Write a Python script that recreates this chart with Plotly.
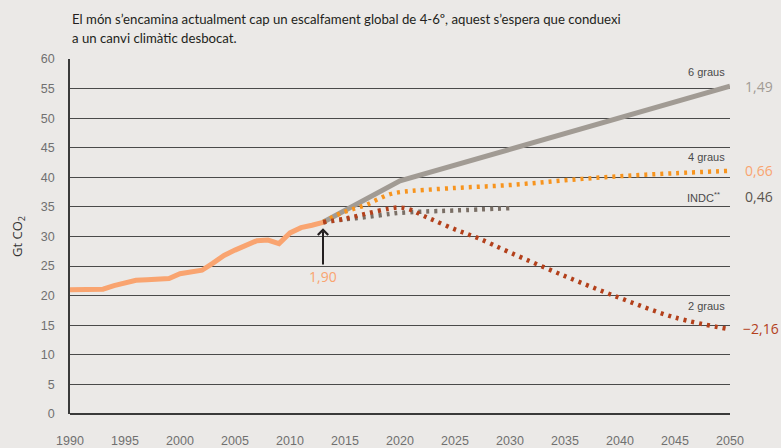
import plotly.graph_objects as go

# ---- data ----
hist_years = list(range(1990, 2014))
hist_vals = [21.0, 21.1, 21.0, 21.1, 21.7, 22.2, 22.6, 22.7, 22.8, 22.9,
             23.7, 24.0, 24.3, 25.5, 26.8, 27.7, 28.5, 29.3, 29.4, 28.8,
             30.6, 31.5, 31.9, 32.4]

g6_years = [2013, 2020, 2050]
g6_vals = [32.4, 39.4, 55.4]

g4_years = [2013, 2014, 2015, 2016, 2017, 2018, 2019, 2020, 2025, 2030, 2035, 2040, 2045, 2050]
g4_vals = [32.4, 33.4, 34.2, 34.8, 35.4, 36.3, 37.1, 37.5, 38.2, 38.7, 39.5, 40.2, 40.7, 41.1]

indc_years = [2013, 2015, 2017, 2019, 2020, 2022, 2025, 2030]
indc_vals = [32.4, 32.9, 33.3, 33.8, 34.0, 34.2, 34.4, 34.8]

g2_years = [2013, 2015, 2017, 2019, 2020, 2021, 2022, 2023, 2025, 2027, 2030, 2035, 2040, 2045, 2050]
g2_vals = [32.4, 33.0, 33.9, 34.7, 34.9, 34.5, 33.6, 32.8, 31.2, 29.8, 27.3, 23.3, 19.6, 16.3, 14.3]

x_ticks = list(range(1990, 2051, 5))
y_ticks = list(range(0, 61, 5))

title_line1 = "El món s’encamina actualment cap un escalfament global de 4-6º, aquest s’espera que conduexi"
title_line2 = "a un canvi climàtic desbocat."

C_HIST = "#f9a470"
C_G6 = "#a19b94"
C_G4 = "#f7941e"
C_INDC = "#7a6f66"
C_G2 = "#b3401b"
BG = "#ebe9e7"
SANS = "Liberation Sans, Arial, sans-serif"
VAL = "Open Sans, sans-serif"
DOTS = "3px,5px"

fig = go.Figure()
fig.add_trace(go.Scatter(x=g6_years, y=g6_vals, mode="lines",
                         line=dict(color=C_G6, width=5), hoverinfo="skip"))
fig.add_trace(go.Scatter(x=g4_years, y=g4_vals, mode="lines", line_shape="spline",
                         line=dict(color=C_G4, width=4.5, dash=DOTS), hoverinfo="skip"))
fig.add_trace(go.Scatter(x=indc_years, y=indc_vals, mode="lines", line_shape="spline",
                         line=dict(color=C_INDC, width=4.5, dash=DOTS), hoverinfo="skip"))
fig.add_trace(go.Scatter(x=g2_years, y=g2_vals, mode="lines", line_shape="spline",
                         line=dict(color=C_G2, width=4.5, dash=DOTS), hoverinfo="skip"))
fig.add_trace(go.Scatter(x=hist_years, y=hist_vals, mode="lines",
                         line=dict(color=C_HIST, width=5), hoverinfo="skip"))

PH = 355.0  # plot height in px
def py(px):
    return 1 + (59 - px) / PH

anns = [
    dict(x=0, y=py(19), xref="paper", yref="paper", xanchor="left", yanchor="middle",
         text=title_line1, showarrow=False,
         font=dict(family="Lato, Open Sans, sans-serif", size=13.2, color="#231f20")),
    dict(x=0, y=py(38), xref="paper", yref="paper", xanchor="left", yanchor="middle",
         text=title_line2, showarrow=False,
         font=dict(family="Lato, Open Sans, sans-serif", size=13.2, color="#231f20")),
    dict(x=2050, y=57.8, text="6 graus", xanchor="right", xshift=-3, showarrow=False,
         font=dict(family=SANS, size=11, color="#4a4a4a")),
    dict(x=2050, y=43.4, text="4 graus", xanchor="right", xshift=-3, showarrow=False,
         font=dict(family=SANS, size=11, color="#4a4a4a")),
    dict(x=2050, y=36.7, text="INDC<sup>**</sup>", xanchor="right", xshift=-8, showarrow=False,
         font=dict(family=SANS, size=11, color="#4a4a4a")),
    dict(x=2050, y=18.3, text="2 graus", xanchor="right", xshift=-3, showarrow=False,
         font=dict(family=SANS, size=11, color="#4a4a4a")),
    dict(x=2050, y=55.3, text="1,49", xanchor="left", xshift=13, showarrow=False,
         font=dict(family=VAL, size=14, color=C_G6)),
    dict(x=2050, y=41.1, text="0,66", xanchor="left", xshift=13, showarrow=False,
         font=dict(family=VAL, size=14, color=C_HIST)),
    dict(x=2050, y=36.7, text="0,46", xanchor="left", xshift=13, showarrow=False,
         font=dict(family=VAL, size=14, color="#5a554f")),
    dict(x=2050, y=14.4, text="−2,16", xanchor="left", xshift=11, showarrow=False,
         font=dict(family=VAL, size=14, color=C_G2)),
    dict(x=2013, y=23.3, text="1,90", showarrow=False,
         font=dict(family=VAL, size=14, color=C_HIST)),
    dict(x=2013, y=31.4, ax=2013, ay=25.0, xref="x", yref="y", axref="x", ayref="y",
         text="", showarrow=True, arrowhead=4, arrowsize=1, arrowwidth=2, arrowcolor="#231f20"),
]

fig.update_layout(
    width=781, height=448,
    margin=dict(l=70, r=51, t=59, b=34),
    paper_bgcolor=BG, plot_bgcolor=BG,
    showlegend=False,
    annotations=anns,
    font=dict(family=SANS, size=12, color="#6d6d6d"),
)
fig.update_xaxes(range=[1990, 2050], tickvals=x_ticks, ticktext=[str(v) for v in x_ticks],
                 showgrid=False, zeroline=False, showline=False, automargin=False,
                 ticks="", ticklabelstandoff=17,
                 tickfont=dict(family=SANS, size=12.5, color="#707070"), fixedrange=True)
fig.update_yaxes(range=[0, 60], tickvals=y_ticks, ticktext=[str(v) for v in y_ticks],
                 showgrid=True, gridcolor="#4a4a4a", gridwidth=1, automargin=False,
                 zeroline=True, zerolinecolor="#3a3a3a", zerolinewidth=1.5,
                 showline=True, linecolor="#3a3a3a", linewidth=1.5,
                 ticks="", ticklabelstandoff=11,
                 tickfont=dict(family=SANS, size=12.5, color="#707070"),
                 title=dict(text="Gt CO<sub>2</sub>", standoff=15,
                            font=dict(family=VAL, size=13, color="#333333")),
                 fixedrange=True)

fig.write_html("out.html", config={"displayModeBar": False},
               post_script="document.body.style.margin='0';")
